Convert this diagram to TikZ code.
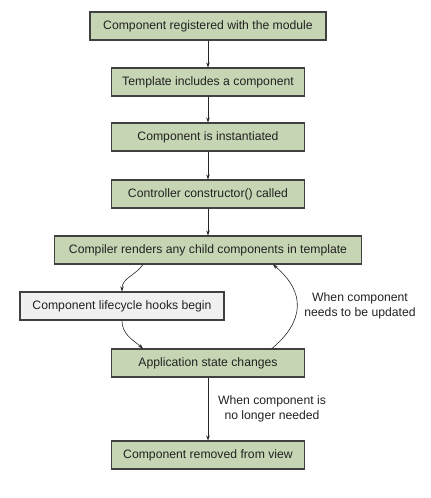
\documentclass[tikz,border=0pt]{standalone}
\usepackage{fontspec}
\setmainfont{Liberation Sans}
\usetikzlibrary{arrows.meta}
\definecolor{boxgreen}{HTML}{C6D5B3}
\definecolor{boxgray}{HTML}{F0F0F0}
\definecolor{edgegray}{HTML}{404040}
\definecolor{textgray}{HTML}{222222}
\tikzset{
    stagebox/.style={draw=edgegray, line width=1.1pt, fill=boxgreen, text=textgray,
                     minimum height=28pt, inner sep=0pt, font=\fontsize{12.2}{14}\selectfont},
    hookbox/.style={stagebox, fill=boxgray},
    flow/.style={-{Stealth[length=5pt,width=3.5pt]}, draw=black!85, line width=0.6pt},
    note/.style={align=center, text=textgray, font=\fontsize{12.2}{15.5}\selectfont}
}
\begin{document}
\begin{tikzpicture}[x=1pt, y=1pt]
    \useasboundingbox (0,0) rectangle (431,-498);
    \node[stagebox, minimum width=236pt] (registered) at (208,-26) {Component registered with the module};
    \node[stagebox, minimum width=193pt] (template) at (208,-82) {Template includes a component};
    \node[stagebox, minimum width=193pt] (instantiated) at (208,-137) {Component is instantiated};
    \node[stagebox, minimum width=193pt] (constructor) at (208,-194) {Controller constructor() called};
    \node[stagebox, minimum width=307pt] (render) at (208,-250) {Compiler renders any child components in template};
    \node[hookbox, minimum width=204pt] (hooks) at (122,-306) {Component lifecycle hooks begin};
    \node[stagebox, minimum width=193pt] (statechange) at (208,-363) {Application state changes};
    \node[stagebox, minimum width=193pt] (removed) at (208,-455) {Component removed from view};

    \draw[flow] (registered) -- (template);
    \draw[flow] (template) -- (instantiated);
    \draw[flow] (instantiated) -- (constructor);
    \draw[flow] (constructor) -- (render);
    \draw[flow] ([xshift=-65pt]render.south) to[out=-125, in=90] (hooks.north);
    \draw[flow] (hooks.south) to[out=-90, in=140] ([xshift=-65pt]statechange.north);
    \draw[flow] ([xshift=64pt]statechange.north) to[out=40, in=-40, looseness=1.3] ([xshift=65pt]render.south);
    \draw[flow] (statechange) -- (removed);

    \node[note] (updatenote) at (360,-306) {When component\\needs to be updated};
    \node[note] (removenote) at (272,-409) {When component is\\no longer needed};
\end{tikzpicture}
\end{document}
